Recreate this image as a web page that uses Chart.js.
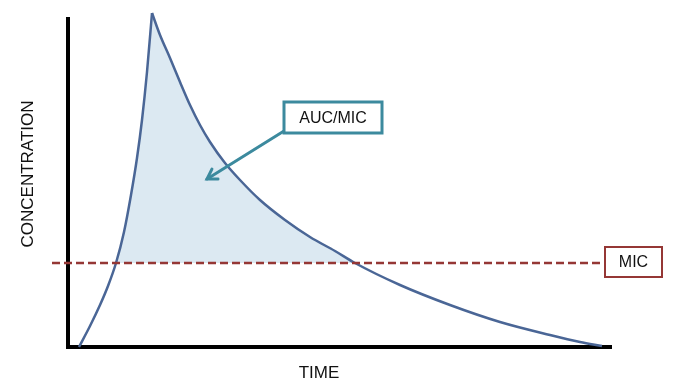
<!DOCTYPE html>
<html>
<head>
<meta charset="utf-8">
<script src="https://cdn.jsdelivr.net/npm/chart.js@4/dist/chart.umd.min.js"></script>
<style>
  html, body { margin: 0; padding: 0; background: #fff; }
  #wrap { width: 684px; height: 390px; position: relative; }
</style>
</head>
<body>
<div id="wrap"><canvas id="pkChart"></canvas></div>
<script>
// concentration-time curve (arbitrary units)
const timeVals = [11, 22, 32, 40, 48, 56, 63, 69, 74, 79, 84, 92, 102, 112, 122, 132, 142, 157, 172, 192, 217, 242, 267, 287, 332, 382, 432, 482, 512, 534];
const concVals = [0, 21, 42, 61, 84, 115, 152, 189, 227, 275, 334, 312, 289, 265, 242, 222, 205, 184, 167, 147, 127, 110, 96, 84, 62, 42, 25, 12, 5, 1];
const micLevel = 84;
const micRange = [-16, 537];
const axisTop = 330;
const axisRight = 544;

const curveColor = "#4a6696";
const fillColor = "#dce9f2";
const micColor = "#953735";
const aucColor = "#3c8a9e";

// split at the peak so the spike stays sharp
const peak = concVals.indexOf(Math.max(...concVals));
const curvePoints = timeVals.map((t, i) => ({ x: t, y: concVals[i] }));
const risePoints = curvePoints.slice(0, peak + 1);
const fallPoints = curvePoints.slice(peak);

const decorPlugin = {
  id: "decor",
  beforeDatasetsDraw(chart) {
    const ctx = chart.ctx;
    const xs = chart.scales.x;
    const ys = chart.scales.y;
    const x0 = xs.getPixelForValue(0);
    const y0 = ys.getPixelForValue(0);
    ctx.save();
    ctx.strokeStyle = "#000";
    ctx.lineWidth = 4;
    ctx.beginPath();
    ctx.moveTo(x0, ys.getPixelForValue(axisTop));
    ctx.lineTo(x0, y0);
    ctx.lineTo(xs.getPixelForValue(axisRight), y0);
    ctx.stroke();
    ctx.restore();
  },
  afterDatasetsDraw(chart) {
    const ctx = chart.ctx;
    const xs = chart.scales.x;
    const ys = chart.scales.y;
    ctx.save();

    // axis titles
    ctx.fillStyle = "#111";
    ctx.font = "17px 'Liberation Sans', Arial, sans-serif";
    ctx.textAlign = "center";
    ctx.textBaseline = "middle";
    ctx.fillText("TIME", 319, 373);
    ctx.save();
    ctx.translate(28, 174);
    ctx.rotate(-Math.PI / 2);
    ctx.fillText("CONCENTRATION", 0, 0);
    ctx.restore();

    // AUC/MIC arrow
    const ax1 = xs.getPixelForValue(216), ay1 = ys.getPixelForValue(216);
    const ax2 = xs.getPixelForValue(139), ay2 = ys.getPixelForValue(168);
    ctx.strokeStyle = aucColor;
    ctx.lineWidth = 3;
    ctx.lineCap = "round";
    ctx.beginPath();
    ctx.moveTo(ax1, ay1);
    ctx.lineTo(ax2, ay2);
    ctx.stroke();
    const ang = Math.atan2(ay2 - ay1, ax2 - ax1);
    ctx.beginPath();
    ctx.moveTo(ax2 - 11 * Math.cos(ang - 0.55), ay2 - 11 * Math.sin(ang - 0.55));
    ctx.lineTo(ax2, ay2);
    ctx.lineTo(ax2 - 11 * Math.cos(ang + 0.55), ay2 - 11 * Math.sin(ang + 0.55));
    ctx.stroke();
    ctx.lineCap = "butt";

    // AUC/MIC box
    const bx1 = xs.getPixelForValue(216), by1 = ys.getPixelForValue(245);
    const bx2 = xs.getPixelForValue(314), by2 = ys.getPixelForValue(214);
    ctx.fillStyle = "#fff";
    ctx.fillRect(bx1, by1, bx2 - bx1, by2 - by1);
    ctx.lineWidth = 3;
    ctx.strokeRect(bx1, by1, bx2 - bx1, by2 - by1);
    ctx.fillStyle = "#111";
    ctx.font = "16px 'Liberation Sans', Arial, sans-serif";
    ctx.fillText("AUC/MIC", (bx1 + bx2) / 2, (by1 + by2) / 2 + 1);

    // MIC box
    const mx1 = xs.getPixelForValue(537), my1 = ys.getPixelForValue(100);
    const mx2 = xs.getPixelForValue(594), my2 = ys.getPixelForValue(70);
    ctx.fillStyle = "#fff";
    ctx.fillRect(mx1, my1, mx2 - mx1, my2 - my1);
    ctx.strokeStyle = micColor;
    ctx.lineWidth = 2;
    ctx.strokeRect(mx1, my1, mx2 - mx1, my2 - my1);
    ctx.fillStyle = "#111";
    ctx.fillText("MIC", (mx1 + mx2) / 2, (my1 + my2) / 2 + 1);

    ctx.restore();
  }
};

const curveStyle = {
  borderColor: curveColor,
  borderWidth: 2.5,
  pointRadius: 0,
  cubicInterpolationMode: "monotone",
  fill: { value: micLevel, above: fillColor, below: "rgba(0,0,0,0)" },
  clip: false,
  order: 1
};

new Chart(document.getElementById("pkChart"), {
  type: "line",
  data: {
    datasets: [
      Object.assign({ data: risePoints }, curveStyle),
      Object.assign({ data: fallPoints }, curveStyle),
      {
        data: micRange.map(t => ({ x: t, y: micLevel })),
        borderColor: micColor,
        borderWidth: 2.5,
        borderDash: [8, 4],
        pointRadius: 0,
        fill: false,
        clip: false,
        order: 0
      }
    ]
  },
  options: {
    responsive: true,
    maintainAspectRatio: false,
    animation: false,
    layout: { padding: { left: 52, right: 72, top: 7, bottom: 43 } },
    plugins: { legend: { display: false }, tooltip: { enabled: false } },
    scales: {
      x: { type: "linear", min: -16, max: 544, display: false },
      y: { type: "linear", min: 0, max: 340, display: false }
    }
  },
  plugins: [decorPlugin]
});
</script>
</body>
</html>
